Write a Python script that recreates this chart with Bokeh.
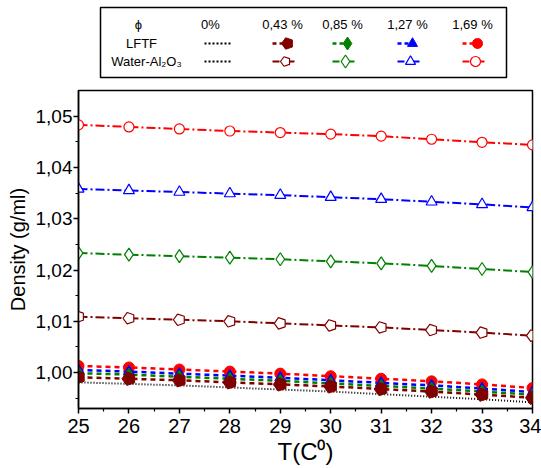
import numpy as np
from bokeh.plotting import figure
from bokeh.layouts import column
from bokeh.models import Range1d, FixedTicker, CustomJSTickFormatter
from bokeh.core.properties import value
from bokeh.embed import file_html
from bokeh.resources import INLINE

# ---------------- data ----------------
temperature = [25, 26, 27, 28, 29, 30, 31, 32, 33, 34]

phi_labels = ["0%", "0,43 %", "0,85 %", "1,27 %", "1,69 %"]

water_0 = [0.9981, 0.9978, 0.9975, 0.9971, 0.9967, 0.9963, 0.9958, 0.9953, 0.9948, 0.9942]

lftf_043 = [0.9991, 0.9988, 0.9985, 0.9981, 0.9977, 0.9973, 0.9968, 0.9963, 0.9957, 0.9951]
lftf_085 = [0.9999, 0.9996, 0.9992, 0.9988, 0.9984, 0.9979, 0.9974, 0.9969, 0.9963, 0.9957]
lftf_127 = [1.0005, 1.0002, 0.9998, 0.9994, 0.9990, 0.9985, 0.9980, 0.9975, 0.9969, 0.9962]
lftf_169 = [1.0013, 1.0010, 1.0006, 1.0002, 0.9998, 0.9993, 0.9988, 0.9983, 0.9977, 0.9970]

wal_043 = [1.0109, 1.0106, 1.0103, 1.0100, 1.0096, 1.0092, 1.0088, 1.0083, 1.0078, 1.0072]
wal_085 = [1.0233, 1.0230, 1.0227, 1.0224, 1.0221, 1.0217, 1.0213, 1.0208, 1.0202, 1.0196]
wal_127 = [1.0358, 1.0355, 1.0352, 1.0349, 1.0346, 1.0342, 1.0338, 1.0333, 1.0328, 1.0322]
wal_169 = [1.0483, 1.0479, 1.0475, 1.0471, 1.0468, 1.0465, 1.0461, 1.0455, 1.0449, 1.0444]

x_ticks = [25, 26, 27, 28, 29, 30, 31, 32, 33, 34]
y_ticks = [1.00, 1.01, 1.02, 1.03, 1.04, 1.05]

FONT = "Liberation Sans"
MAROON, GREEN, BLUE, RED = "#800000", "#008000", "#0000FF", "#FF0000"
LFTF_DASH = "5 4"
WAL_DASH = "9 3 2 3"

# ---------------- main plot ----------------
p = figure(width=541, height=383, output_backend="svg", toolbar_location=None,
           x_range=Range1d(25, 34), y_range=Range1d(0.993, 1.055),
           min_border_left=78, min_border_right=9, min_border_top=5, min_border_bottom=60)
p.grid.visible = False
p.outline_line_color = "black"
p.outline_line_width = 1.5
p.background_fill_color = "white"
p.border_fill_color = "white"

p.xaxis.ticker = FixedTicker(ticks=x_ticks, minor_ticks=list(np.arange(25.5, 34, 1.0)))
p.yaxis.ticker = FixedTicker(ticks=y_ticks,
                             minor_ticks=[0.995, 1.005, 1.015, 1.025, 1.035, 1.045])
p.yaxis.formatter = CustomJSTickFormatter(code="return tick.toFixed(2).replace('.', ',');")
for ax in (p.xaxis[0], p.yaxis[0]):
    ax.axis_line_width = 1.5
    ax.axis_line_color = "black"
    ax.major_tick_line_color = "black"
    ax.minor_tick_line_color = "black"
    ax.major_tick_line_width = 1.5
    ax.minor_tick_line_width = 1.2
    ax.major_tick_out = 5
    ax.major_tick_in = 0
    ax.minor_tick_out = 3
    ax.minor_tick_in = 0
    ax.major_label_text_font = FONT
    ax.major_label_text_color = "black"
    ax.axis_label_text_font = FONT
    ax.axis_label_text_color = "black"
    ax.axis_label_text_font_style = "normal"
p.xaxis.major_label_text_font_size = "20px"
p.yaxis.major_label_text_font_size = "19px"
p.xaxis.axis_label = "T(C\u2070)"
p.yaxis.axis_label = "Density (g/ml)"
p.xaxis.axis_label_text_font_size = "24px"
p.yaxis.axis_label_text_font_size = "20px"
p.xaxis.axis_label_standoff = 2
p.yaxis.axis_label_standoff = 4
p.xaxis.major_label_standoff = 5
p.yaxis.major_label_standoff = 1

T = temperature
# 0% dotted
p.line(T, water_0, line_color="black", line_width=2, line_dash="1 2")

# LFTF dashed lines
for ys, col in [(lftf_169, RED), (lftf_127, BLUE), (lftf_085, GREEN), (lftf_043, MAROON)]:
    p.line(T, ys, line_color=col, line_width=2.5, line_dash=LFTF_DASH)

# Water-Al2O3 dash-dot lines
for ys, col in [(wal_043, MAROON), (wal_085, GREEN), (wal_127, BLUE), (wal_169, RED)]:
    p.line(T, ys, line_color=col, line_width=2, line_dash=WAL_DASH)

p.scatter(T, wal_169, marker="circle", size=10, line_color=RED, fill_color="white", line_width=1.2)
p.scatter(T, wal_127, marker="triangle", size=11, line_color=BLUE, fill_color="white", line_width=1.2)
p.scatter(T, wal_085, marker="diamond", size=13, line_color=GREEN, fill_color="white", line_width=1.2)
p.ngon(T, wal_043, radius=6, radius_units="screen", n=5, angle=np.pi / 2,
       line_color=MAROON, fill_color="white", line_width=1.2)

p.scatter(T, lftf_169, marker="circle", size=11, line_color=RED, fill_color=RED)
p.scatter(T, lftf_127, marker="triangle", size=11, line_color=BLUE, fill_color=BLUE)
p.scatter(T, lftf_085, marker="diamond", size=13, line_color=GREEN, fill_color=GREEN)
p.ngon(T, lftf_043, radius=7, radius_units="screen", n=5, angle=np.pi / 2,
       line_color=MAROON, fill_color=MAROON)

# ---------------- legend panel (frame aligned with the main plot's frame) ----------------
lg = figure(width=541, height=85, output_backend="svg", toolbar_location=None,
            x_range=Range1d(78, 532), y_range=Range1d(85, 0),
            x_axis_location=None, y_axis_location=None,
            min_border_left=78, min_border_right=9,
            min_border_top=0, min_border_bottom=0)
lg.grid.visible = False
lg.outline_line_color = None
lg.border_fill_color = "white"
lg.background_fill_color = "white"

lg.quad(left=[100], right=[506], top=[7], bottom=[77], fill_color="white",
        line_color="black", line_width=1.5)

col_x = [210, 282, 342, 407, 472]
row_header, row_lftf, row_wal = 24, 43, 61
txt = dict(text_font=value(FONT), text_font_size="13px", text_align="center",
           text_baseline="middle", text_color="black")
lg.text([138], [row_header], text=["\u03d5"], **txt)
lg.text(col_x, [row_header] * 5, text=phi_labels, **txt)
lg.text([141], [row_lftf], text=["LFTF"], **txt)
lg.text([146], [row_wal], text=["Water-Al\u2082O\u2083"], **txt)

# 0% samples
lg.segment([204, 204], [row_lftf, row_wal], [231, 231], [row_lftf, row_wal],
           line_color="black", line_width=2, line_dash="2 2")

colors = [MAROON, GREEN, BLUE, RED]
markers = ["pent", "diamond", "triangle", "circle"]
for cx, col, mk in zip(col_x[1:], colors, markers):
    lg.segment([cx - 10], [row_lftf], [cx + 10], [row_lftf], line_color=col,
               line_width=2.5, line_dash="4 3")
    lg.segment([cx - 10], [row_wal], [cx + 14], [row_wal], line_color=col,
               line_width=2, line_dash="7 3 2 3")
    if mk == "pent":
        lg.ngon([cx + 5], [row_lftf], radius=6, radius_units="screen", n=5, angle=np.pi / 2,
                line_color=col, fill_color=col)
        lg.ngon([cx + 3], [row_wal], radius=5, radius_units="screen", n=5, angle=np.pi / 2,
                line_color=col, fill_color="white", line_width=1.2)
    else:
        sz = 13 if mk == "diamond" else 10
        lg.scatter([cx + 5], [row_lftf], marker=mk, size=sz, line_color=col, fill_color=col)
        lg.scatter([cx + 3], [row_wal], marker=mk, size=sz, line_color=col,
                   fill_color="white", line_width=1.2)

layout = column(lg, p, spacing=0)
open("out.html", "w").write(file_html(layout, INLINE))
